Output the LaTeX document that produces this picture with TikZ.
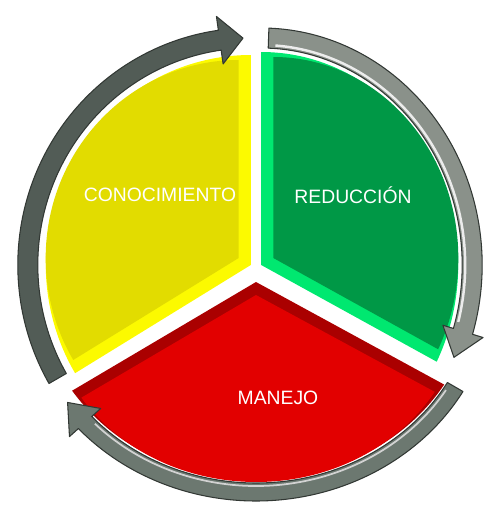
\documentclass[tikz,border=0pt]{standalone}
\usepackage{fontspec}
\setmainfont{Liberation Sans}
\usetikzlibrary{calc}

\tikzset{
    ringline/.style={draw=ringedge, line width=0.6pt, line join=round},
    sectorlabel/.style={text=white, font=\fontsize{11}{13}\selectfont}
}

\begin{document}
\begin{tikzpicture}
    % Define colors
    \definecolor{conocolor}{RGB}{226,220,0}
    \definecolor{conoedge}{RGB}{252,250,0}
    \definecolor{reduccolor}{RGB}{0,152,70}
    \definecolor{reducedge}{RGB}{0,232,112}
    \definecolor{manejocolor}{RGB}{226,0,0}
    \definecolor{manejoedge}{RGB}{170,0,0}
    \definecolor{ringdark}{RGB}{82,92,86}
    \definecolor{ringlight}{RGB}{138,145,138}
    \definecolor{ringmid}{RGB}{108,120,112}
    \definecolor{ringedge}{RGB}{50,56,52}

    \useasboundingbox (-5.12,-4.88) rectangle (4.58,5.36);

    % Sector centers
    \coordinate (yc) at (150:0.12);
    \coordinate (gc) at (30:0.12);
    \coordinate (rc) at (270:0.28);

    % Sectors
    \fill[conoedge] (yc) -- ++(90:4.1 and 4.2) arc[start angle=90, end angle=211, x radius=4.1, y radius=4.2] -- cycle;
    \fill[conocolor] ($(yc)+(150:0.28)$) -- ++(90:3.86 and 3.96) arc[start angle=90, end angle=211, x radius=3.86, y radius=3.96] -- cycle;

    \fill[reducedge] (gc) -- ++(90:3.94 and 4.26) arc[start angle=90, end angle=-27, x radius=3.94, y radius=4.26] -- cycle;
    \fill[reduccolor] ($(gc)+(30:0.28)$) -- ++(90:3.7 and 4.02) arc[start angle=90, end angle=-27, x radius=3.7, y radius=4.02] -- cycle;

    \fill[manejoedge] (rc) -- ++(213.3:4.4 and 3.96) arc[start angle=213.3, end angle=328.8, x radius=4.4, y radius=3.96] -- cycle;
    \fill[manejocolor] ($(rc)+(270:0.26)$) -- ++(213.3:4.18 and 3.74) arc[start angle=213.3, end angle=328.8, x radius=4.18, y radius=3.74] -- cycle;

    % Arrows round the sectors
    \begin{scope}[shift={(yc)}]
        \filldraw[ringline, fill=ringdark] (210:4.66 and 4.74) arc[start angle=210, end angle=98, x radius=4.66, y radius=4.74] -- (98:4.94 and 5.02) -- (92:4.46 and 4.54) -- (98:3.98 and 4.06) -- (98:4.26 and 4.34) arc[start angle=98, end angle=210, x radius=4.26, y radius=4.34] -- cycle;
    \end{scope}

    \begin{scope}[shift={(gc)}]
        \filldraw[ringline, fill=ringlight] (88:4.42 and 4.74) arc[start angle=88, end angle=-17, x radius=4.42, y radius=4.74] -- (-17:4.64 and 4.96) -- (-24:4.22 and 4.54) -- (-17:3.8 and 4.12) -- (-17:4.02 and 4.34) arc[start angle=-17, end angle=88, x radius=4.02, y radius=4.34] -- cycle;
        \draw[white!85!gray, line width=1.4pt] (86:4.08 and 4.4) arc[start angle=86, end angle=-15, x radius=4.08, y radius=4.4];
    \end{scope}

    \begin{scope}[shift={(rc)}]
        \filldraw[ringline, fill=ringmid] (330:4.78 and 4.38) arc[start angle=330, end angle=222, x radius=4.78, y radius=4.38] -- (222:5.02 and 4.62) -- (215:4.6 and 4.2) -- (222:4.18 and 3.78) -- (222:4.42 and 4.02) arc[start angle=222, end angle=330, x radius=4.42, y radius=4.02] -- cycle;
        \draw[white!65!gray, line width=1pt] (328:4.48 and 4.08) arc[start angle=328, end angle=224, x radius=4.48, y radius=4.08];
    \end{scope}

    % Labels
    \node[sectorlabel] (cono) at (-1.92,1.46) {CONOCIMIENTO};
    \node[sectorlabel] (reduc) at (1.94,1.46) {REDUCCIÓN};
    \node[sectorlabel] (manejo) at (0.44,-2.6) {MANEJO};
\end{tikzpicture}
\end{document}
